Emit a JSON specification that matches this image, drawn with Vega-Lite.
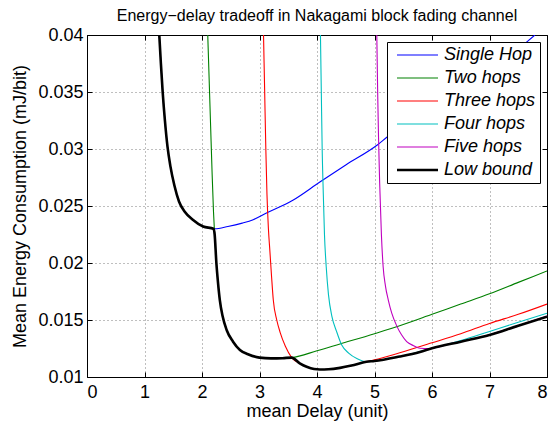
{
  "$schema": "https://vega.github.io/schema/vega-lite/v6.json",
  "autosize": {"type": "none"},
  "padding": {"left": 87, "top": 35, "right": 5, "bottom": 49},
  "width": 460,
  "height": 342,
  "background": "white",
  "title": {"text": "Energy−delay tradeoff in Nakagami block fading channel", "font": "Liberation Sans", "fontSize": 16, "fontWeight": "normal", "color": "black", "anchor": "middle", "offset": 2},
  "config": {
    "view": {"stroke": "black", "strokeWidth": 1},
    "axis": {
      "labelFont": "Liberation Sans", "labelFontSize": 18, "labelColor": "black",
      "titleFont": "Liberation Sans", "titleFontSize": 18, "titleFontWeight": "normal", "titleColor": "black",
      "domain": false, "tickColor": "black", "tickSize": -5, "tickWidth": 1,
      "grid": true, "gridColor": "black", "gridDash": [1, 3], "gridOpacity": 0.5, "gridWidth": 1
    },
    "legend": {
      "orient": "top-right", "offset": 7, "padding": 4, "fillColor": "white", "strokeColor": "black",
      "labelFont": "Liberation Sans", "labelFontSize": 18, "labelFontStyle": "italic", "labelColor": "black",
      "symbolType": "stroke", "symbolSize": 1681, "symbolStrokeWidth": 1.2, "clipHeight": 18, "rowPadding": 5, "labelOffset": 5, "symbolOffset": 5,
      "labelLimit": 300
    }
  },
  "data": {"values": [
    {"s": "Single Hop", "x": 1.257, "y": 0.0400},
    {"s": "Single Hop", "x": 1.285, "y": 0.0375},
    {"s": "Single Hop", "x": 1.316, "y": 0.0350},
    {"s": "Single Hop", "x": 1.355, "y": 0.0325},
    {"s": "Single Hop", "x": 1.400, "y": 0.0302},
    {"s": "Single Hop", "x": 1.45, "y": 0.0285},
    {"s": "Single Hop", "x": 1.52, "y": 0.0268},
    {"s": "Single Hop", "x": 1.60, "y": 0.0254},
    {"s": "Single Hop", "x": 1.70, "y": 0.0245},
    {"s": "Single Hop", "x": 1.84, "y": 0.0238},
    {"s": "Single Hop", "x": 2.02, "y": 0.0232},
    {"s": "Single Hop", "x": 2.22, "y": 0.0230},
    {"s": "Single Hop", "x": 2.45, "y": 0.0232},
    {"s": "Single Hop", "x": 2.70, "y": 0.0235},
    {"s": "Single Hop", "x": 2.89, "y": 0.0238},
    {"s": "Single Hop", "x": 3.13, "y": 0.0244},
    {"s": "Single Hop", "x": 3.58, "y": 0.0255},
    {"s": "Single Hop", "x": 4.05, "y": 0.0271},
    {"s": "Single Hop", "x": 4.50, "y": 0.0286},
    {"s": "Single Hop", "x": 5.06, "y": 0.0304},
    {"s": "Single Hop", "x": 5.22, "y": 0.03105},
    {"s": "Single Hop", "x": 5.6, "y": 0.0324},
    {"s": "Single Hop", "x": 6.0, "y": 0.0338},
    {"s": "Single Hop", "x": 6.5, "y": 0.0355},
    {"s": "Single Hop", "x": 7.0, "y": 0.0372},
    {"s": "Single Hop", "x": 7.65, "y": 0.0394},
    {"s": "Single Hop", "x": 7.79, "y": 0.0400},

    {"s": "Two hops", "x": 2.100, "y": 0.0400},
    {"s": "Two hops", "x": 2.125, "y": 0.0360},
    {"s": "Two hops", "x": 2.150, "y": 0.0320},
    {"s": "Two hops", "x": 2.175, "y": 0.0280},
    {"s": "Two hops", "x": 2.20, "y": 0.0245},
    {"s": "Two hops", "x": 2.22, "y": 0.0225},
    {"s": "Two hops", "x": 2.25, "y": 0.0200},
    {"s": "Two hops", "x": 2.28, "y": 0.0182},
    {"s": "Two hops", "x": 2.31, "y": 0.01675},
    {"s": "Two hops", "x": 2.36, "y": 0.0153},
    {"s": "Two hops", "x": 2.43, "y": 0.0141},
    {"s": "Two hops", "x": 2.54, "y": 0.0131},
    {"s": "Two hops", "x": 2.66, "y": 0.01237},
    {"s": "Two hops", "x": 2.80, "y": 0.0120},
    {"s": "Two hops", "x": 3.0, "y": 0.01170},
    {"s": "Two hops", "x": 3.2, "y": 0.01163},
    {"s": "Two hops", "x": 3.4, "y": 0.01165},
    {"s": "Two hops", "x": 3.56, "y": 0.0117},
    {"s": "Two hops", "x": 4.0, "y": 0.0123},
    {"s": "Two hops", "x": 4.4, "y": 0.0129},
    {"s": "Two hops", "x": 5.0, "y": 0.0138},
    {"s": "Two hops", "x": 5.5, "y": 0.0146},
    {"s": "Two hops", "x": 6.0, "y": 0.0155},
    {"s": "Two hops", "x": 6.5, "y": 0.0164},
    {"s": "Two hops", "x": 7.0, "y": 0.0173},
    {"s": "Two hops", "x": 7.5, "y": 0.0183},
    {"s": "Two hops", "x": 8.0, "y": 0.0193},

    {"s": "Three hops", "x": 3.07, "y": 0.0400},
    {"s": "Three hops", "x": 3.09, "y": 0.0350},
    {"s": "Three hops", "x": 3.11, "y": 0.0300},
    {"s": "Three hops", "x": 3.13, "y": 0.0260},
    {"s": "Three hops", "x": 3.155, "y": 0.0230},
    {"s": "Three hops", "x": 3.18, "y": 0.0211},
    {"s": "Three hops", "x": 3.21, "y": 0.0188},
    {"s": "Three hops", "x": 3.24, "y": 0.01675},
    {"s": "Three hops", "x": 3.30, "y": 0.0150},
    {"s": "Three hops", "x": 3.36, "y": 0.0139},
    {"s": "Three hops", "x": 3.45, "y": 0.0127},
    {"s": "Three hops", "x": 3.56, "y": 0.0117},
    {"s": "Three hops", "x": 3.70, "y": 0.0112},
    {"s": "Three hops", "x": 3.82, "y": 0.0109},
    {"s": "Three hops", "x": 3.95, "y": 0.01070},
    {"s": "Three hops", "x": 4.05, "y": 0.01066},
    {"s": "Three hops", "x": 4.2, "y": 0.01068},
    {"s": "Three hops", "x": 4.4, "y": 0.0108},
    {"s": "Three hops", "x": 4.6, "y": 0.0110},
    {"s": "Three hops", "x": 4.86, "y": 0.01134},
    {"s": "Three hops", "x": 5.0, "y": 0.0115},
    {"s": "Three hops", "x": 5.44, "y": 0.01213},
    {"s": "Three hops", "x": 6.0, "y": 0.0130},
    {"s": "Three hops", "x": 6.5, "y": 0.0138},
    {"s": "Three hops", "x": 7.0, "y": 0.0147},
    {"s": "Three hops", "x": 7.5, "y": 0.0155},
    {"s": "Three hops", "x": 8.0, "y": 0.0164},

    {"s": "Four hops", "x": 4.06, "y": 0.0400},
    {"s": "Four hops", "x": 4.075, "y": 0.0350},
    {"s": "Four hops", "x": 4.09, "y": 0.0300},
    {"s": "Four hops", "x": 4.11, "y": 0.0260},
    {"s": "Four hops", "x": 4.13, "y": 0.0225},
    {"s": "Four hops", "x": 4.16, "y": 0.0197},
    {"s": "Four hops", "x": 4.20, "y": 0.0172},
    {"s": "Four hops", "x": 4.26, "y": 0.0153},
    {"s": "Four hops", "x": 4.34, "y": 0.0140},
    {"s": "Four hops", "x": 4.43, "y": 0.0128},
    {"s": "Four hops", "x": 4.55, "y": 0.0121},
    {"s": "Four hops", "x": 4.70, "y": 0.0116},
    {"s": "Four hops", "x": 4.86, "y": 0.01134},
    {"s": "Four hops", "x": 5.0, "y": 0.01140},
    {"s": "Four hops", "x": 5.44, "y": 0.0118},
    {"s": "Four hops", "x": 6.0, "y": 0.01252},
    {"s": "Four hops", "x": 6.5, "y": 0.0132},
    {"s": "Four hops", "x": 7.0, "y": 0.0140},
    {"s": "Four hops", "x": 7.5, "y": 0.0148},
    {"s": "Four hops", "x": 8.0, "y": 0.01559},

    {"s": "Five hops", "x": 5.04, "y": 0.0400},
    {"s": "Five hops", "x": 5.055, "y": 0.0350},
    {"s": "Five hops", "x": 5.07, "y": 0.0310},
    {"s": "Five hops", "x": 5.09, "y": 0.0270},
    {"s": "Five hops", "x": 5.12, "y": 0.0225},
    {"s": "Five hops", "x": 5.15, "y": 0.0197},
    {"s": "Five hops", "x": 5.19, "y": 0.0180},
    {"s": "Five hops", "x": 5.24, "y": 0.01675},
    {"s": "Five hops", "x": 5.30, "y": 0.0156},
    {"s": "Five hops", "x": 5.39, "y": 0.01444},
    {"s": "Five hops", "x": 5.47, "y": 0.0137},
    {"s": "Five hops", "x": 5.56, "y": 0.0131},
    {"s": "Five hops", "x": 5.68, "y": 0.01275},
    {"s": "Five hops", "x": 5.79, "y": 0.01252},
    {"s": "Five hops", "x": 5.95, "y": 0.0125},
    {"s": "Five hops", "x": 6.1, "y": 0.01262},
    {"s": "Five hops", "x": 6.3, "y": 0.0129},
    {"s": "Five hops", "x": 6.5, "y": 0.0131},
    {"s": "Five hops", "x": 7.0, "y": 0.0137},
    {"s": "Five hops", "x": 7.5, "y": 0.0145},
    {"s": "Five hops", "x": 8.0, "y": 0.01535},

    {"s": "Low bound", "x": 1.257, "y": 0.0400},
    {"s": "Low bound", "x": 1.285, "y": 0.0375},
    {"s": "Low bound", "x": 1.316, "y": 0.0350},
    {"s": "Low bound", "x": 1.355, "y": 0.0325},
    {"s": "Low bound", "x": 1.400, "y": 0.0302},
    {"s": "Low bound", "x": 1.45, "y": 0.0285},
    {"s": "Low bound", "x": 1.52, "y": 0.0268},
    {"s": "Low bound", "x": 1.60, "y": 0.0254},
    {"s": "Low bound", "x": 1.70, "y": 0.0245},
    {"s": "Low bound", "x": 1.84, "y": 0.0238},
    {"s": "Low bound", "x": 2.02, "y": 0.0232},
    {"s": "Low bound", "x": 2.20, "y": 0.0230},
    {"s": "Low bound", "x": 2.22, "y": 0.0225},
    {"s": "Low bound", "x": 2.25, "y": 0.0200},
    {"s": "Low bound", "x": 2.28, "y": 0.0182},
    {"s": "Low bound", "x": 2.31, "y": 0.01675},
    {"s": "Low bound", "x": 2.36, "y": 0.0153},
    {"s": "Low bound", "x": 2.43, "y": 0.0141},
    {"s": "Low bound", "x": 2.54, "y": 0.0131},
    {"s": "Low bound", "x": 2.66, "y": 0.01237},
    {"s": "Low bound", "x": 2.80, "y": 0.0120},
    {"s": "Low bound", "x": 3.0, "y": 0.01170},
    {"s": "Low bound", "x": 3.2, "y": 0.01163},
    {"s": "Low bound", "x": 3.4, "y": 0.01165},
    {"s": "Low bound", "x": 3.56, "y": 0.0117},
    {"s": "Low bound", "x": 3.70, "y": 0.0112},
    {"s": "Low bound", "x": 3.82, "y": 0.0109},
    {"s": "Low bound", "x": 3.95, "y": 0.01070},
    {"s": "Low bound", "x": 4.05, "y": 0.01066},
    {"s": "Low bound", "x": 4.2, "y": 0.01068},
    {"s": "Low bound", "x": 4.4, "y": 0.0108},
    {"s": "Low bound", "x": 4.6, "y": 0.0110},
    {"s": "Low bound", "x": 4.86, "y": 0.01134},
    {"s": "Low bound", "x": 5.0, "y": 0.01140},
    {"s": "Low bound", "x": 5.44, "y": 0.0118},
    {"s": "Low bound", "x": 5.79, "y": 0.0122},
    {"s": "Low bound", "x": 6.0, "y": 0.01252},
    {"s": "Low bound", "x": 6.5, "y": 0.0131},
    {"s": "Low bound", "x": 7.0, "y": 0.01368},
    {"s": "Low bound", "x": 7.5, "y": 0.0145},
    {"s": "Low bound", "x": 8.0, "y": 0.01529}
  ]},
  "layer": [
    {
      "mark": {"type": "line", "interpolate": "monotone", "clip": true},
      "encoding": {
        "x": {"field": "x", "type": "quantitative", "scale": {"domain": [0, 8], "nice": false, "zero": false},
              "axis": {"values": [0, 1, 2, 3, 4, 5, 6, 7, 8], "format": "d", "title": "mean Delay (unit)", "labelPadding": 11, "titlePadding": 1}},
        "y": {"field": "y", "type": "quantitative", "scale": {"domain": [0.01, 0.04], "nice": false, "zero": false},
              "axis": {"values": [0.01, 0.015, 0.02, 0.025, 0.03, 0.035, 0.04], "format": "~g", "title": "Mean Energy Consumption (mJ/bit)", "labelPadding": 9, "titlePadding": 8}},
        "color": {"field": "s", "type": "nominal",
                  "scale": {"domain": ["Single Hop", "Two hops", "Three hops", "Four hops", "Five hops", "Low bound"],
                            "range": ["#0000ff", "#008000", "#ff0000", "#00bfbf", "#bf00bf", "#000000"]},
                  "legend": {"title": null,
                             "encode": {"symbols": {"update": {"size": {"value": 1681}, "strokeWidth": {"signal": "(datum.value === 'Low bound' ? 2.6 : 1.2)"}}}}}},
        "strokeWidth": {"condition": {"test": "datum.s === 'Low bound'", "value": 2.6}, "value": 1.1}
      }
    },
    {
      "mark": {"type": "line", "opacity": 0, "clip": true},
      "encoding": {
        "x": {"field": "x", "type": "quantitative",
              "axis": {"orient": "top", "values": [0, 1, 2, 3, 4, 5, 6, 7, 8], "labels": false, "title": null, "grid": false}},
        "y": {"field": "y", "type": "quantitative",
              "axis": {"orient": "right", "values": [0.01, 0.015, 0.02, 0.025, 0.03, 0.035, 0.04], "labels": false, "title": null, "grid": false}},
        "detail": {"field": "s"}
      }
    }
  ],
  "resolve": {"axis": {"x": "independent", "y": "independent"}}
}
